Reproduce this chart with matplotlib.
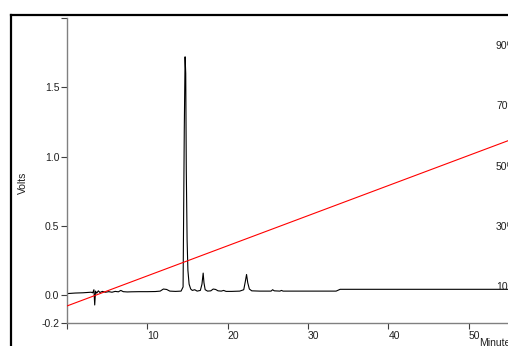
import matplotlib
matplotlib.use("Agg")
import matplotlib.pyplot as plt
from matplotlib.lines import Line2D

# chromatogram trace (minutes, volts)
trace_time = [0.0, 0.5, 1.0, 1.5, 2.0, 2.5, 3.0, 3.2, 3.35, 3.45, 3.55, 3.7,
              3.9, 4.1, 4.4, 4.8, 5.2, 5.6, 6.0, 6.4, 6.7, 7.0, 7.5, 8.0,
              9.0, 10.0, 11.0, 11.6, 12.0, 12.4, 12.8, 13.5, 14.2, 14.45,
              14.6, 14.7, 14.78, 14.85, 14.95, 15.05, 15.2, 15.4, 15.6, 15.9,
              16.2, 16.6, 16.8, 16.95, 17.05, 17.2, 17.5, 17.9, 18.2, 18.5,
              18.8, 19.2, 19.5, 19.8, 20.5, 21.5, 22.0, 22.2, 22.35, 22.5,
              22.7, 23.0, 24.0, 25.4, 25.6, 25.8, 26.5, 26.7, 26.9, 30.0,
              33.5, 34.0, 60.0]
trace_volts = [0.012, 0.014, 0.016, 0.017, 0.018, 0.020, 0.022, 0.018, 0.040,
               -0.070, 0.030, 0.015, 0.032, 0.020, 0.028, 0.022, 0.026, 0.022,
               0.028, 0.025, 0.035, 0.026, 0.024, 0.025, 0.026, 0.026, 0.027,
               0.030, 0.045, 0.042, 0.030, 0.028, 0.030, 0.060, 1.20, 1.72,
               1.60, 0.90, 0.40, 0.18, 0.08, 0.045, 0.035, 0.040, 0.030, 0.035,
               0.080, 0.160, 0.090, 0.040, 0.030, 0.032, 0.045, 0.042, 0.032,
               0.030, 0.035, 0.028, 0.028, 0.030, 0.040, 0.100, 0.150, 0.090,
               0.045, 0.032, 0.030, 0.030, 0.040, 0.032, 0.030, 0.035, 0.030,
               0.030, 0.030, 0.043, 0.043]

# gradient (%B) line
gradient_time = [0, 60]
gradient_pct = [3.7, 63.7]

volt_ticks = [-0.2, 0.0, 0.5, 1.0, 1.5, 2.0]
volt_labels = ["-0.2", "0.0", "0.5", "1.0", "1.5", ""]
minute_ticks = [0, 10, 20, 30, 40, 50]
minute_labels = ["", "10", "20", "30", "40", "50"]
pct_marks = [10, 30, 50, 70, 90]

W, H = 508, 346
fig = plt.figure(figsize=(W / 100, H / 100), dpi=100)
plt.rcParams['font.family'] = ['Liberation Sans', 'DejaVu Sans']

# axes box in pixels: left 67, right ~549 (cut off), top 18, bottom 323
ax = fig.add_axes([67 / W, (H - 323) / H, 482 / W, 305 / H])
ax.set_xlim(0, 60)
ax.set_ylim(-0.2, 2.0)

ax.plot(trace_time, trace_volts, color='black', lw=0.8)

for side in ['top', 'right']:
    ax.spines[side].set_visible(False)
for side in ['left', 'bottom']:
    ax.spines[side].set_color('#808080')
    ax.spines[side].set_linewidth(1.0)

ax.set_yticks(volt_ticks)
ax.set_yticklabels(volt_labels)
ax.set_xticks(minute_ticks)
ax.set_xticklabels(minute_labels)
ax.tick_params(axis='both', length=4, width=0.8, color='#404040',
               labelsize=7.5, labelcolor='#202020', pad=1.5)
for lab in ax.get_xticklabels():
    lab.set_ha('left')

# secondary percent scale for the gradient
ax2 = ax.twinx()
ax2.set_ylim(-1.96, 99.37)
ax2.plot(gradient_time, gradient_pct, color='#ff0000', lw=0.8)
ax2.axis('off')
for p in pct_marks:
    ax2.text(53.4, p, f"{p}%", fontsize=7.5, color='#202020',
             ha='left', va='center')

fig.text(23 / W, 1 - 183 / H, "Volts", rotation=90, fontsize=7.5,
         ha='center', va='center', color='#202020')
fig.text(479 / W, 1 - 338 / H, "Minutes", fontsize=7.5,
         ha='left', va='top', color='#202020')

# black frame around the plot (cut at right and bottom)
fig.add_artist(Line2D([11 / W, 1.0], [1 - 15 / H, 1 - 15 / H],
                      transform=fig.transFigure, color='black', lw=1.6))
fig.add_artist(Line2D([11 / W, 11 / W], [1 - 15 / H, 0.0],
                      transform=fig.transFigure, color='black', lw=1.6))

fig.savefig("out.png", dpi=100)
